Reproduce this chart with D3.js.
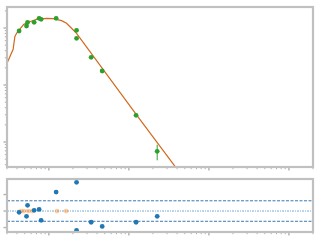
<!DOCTYPE html>
<html><head><meta charset="utf-8">
<script src="https://cdn.jsdelivr.net/npm/d3@7"></script>
<style>body{margin:0;background:#fff}svg{display:block}</style>
</head><body>
<script>
// data
const obsX = [0.425,0.526,0.542,0.655,0.756,0.801,1.234,2.22,2.22,3.38,4.64,12.3,22.6];
const obsY = [0.886,1.084,1.259,1.259,1.48,1.42,1.48,0.911,0.659,0.306,0.176,0.0294,0.00687];
const obsErr = [0.03,0.04,0.04,0.04,0.05,0.05,0.05,0.03,0.02,0.01,0.006,0.001,0.0021];
const modelX = [0.3,0.358,0.376,0.395,0.434,0.487,0.579,0.702,0.936,1.132,1.442,1.664,1.922,2.22,13.72,43.4];
const modelY = [0.240,0.423,0.704,0.807,0.960,1.161,1.29,1.42,1.48,1.456,1.343,1.209,0.988,0.807,0.025,0.00287];
const residX = obsX;
const residY = [-0.08,-0.32,0.345,0.04,0.10,-0.56,1.15,1.74,-1.17,-0.68,-0.93,-0.68,-0.32];
const limX = [0.443,0.487,0.551,0.618,1.27,1.645];
const limY = [0,0,0,0,0,0];
const bandLevels = [0.62,-0.62];
const zeroLevel = 0;

const W=320,H=240;
const svg=d3.select("body").append("svg").attr("width",W).attr("height",H);
const L=7,R=313, T1=7,B1=167, T2=179,B2=232;
const spine="#c0c0c0", tickC="#b0b0b0";

const x=d3.scaleLog().domain([0.3,2000]).range([L,R]);
const y1=d3.scaleLog().domain([0.00364,2.335]).range([B1,T1]);
const y2=d3.scaleLinear().domain([-1.27,1.94]).range([B2,T2]);

function logTicks(scale){
  const t=scale.ticks();
  return t;
}
function drawAxes(ys,top,bot,isLogY){
  const g=svg.append("g");
  // x ticks
  const xt=x.ticks().filter(v=>x(v)>=L-0.5&&x(v)<=R+0.5);
  xt.forEach(v=>{
    const major=Math.abs(Math.log10(v)-Math.round(Math.log10(v)))<1e-6;
    g.append("line").attr("x1",x(v)).attr("x2",x(v)).attr("y1",bot).attr("y2",bot+(major?3.5:2.2))
      .attr("stroke",tickC).attr("stroke-width",major?1.4:1);
  });
  let yt;
  if(isLogY){ yt=ys.ticks().filter(v=>ys(v)>=top&&ys(v)<=bot); }
  else { yt=[-1,0,1]; }
  yt.forEach(v=>{
    const major=isLogY?Math.abs(Math.log10(v)-Math.round(Math.log10(v)))<1e-6:true;
    g.append("line").attr("y1",ys(v)).attr("y2",ys(v)).attr("x1",L).attr("x2",L-(major?3.5:2.2))
      .attr("stroke",tickC).attr("stroke-width",major?1.4:1);
  });
  g.append("rect").attr("x",L).attr("y",top).attr("width",R-L).attr("height",bot-top)
    .attr("fill","none").attr("stroke",spine).attr("stroke-width",2.2);
}

// top panel
const clip=svg.append("clipPath").attr("id","c1").append("rect").attr("x",L).attr("y",T1).attr("width",R-L).attr("height",B1-T1);
const p1=svg.append("g").attr("clip-path","url(#c1)");
const mdl=modelX.map((v,i)=>[v,modelY[i]]);
p1.append("path").attr("d",d3.line().x(d=>x(d[0])).y(d=>y1(d[1]))(mdl))
  .attr("fill","none").attr("stroke","#d2691e").attr("stroke-width",1.2);
obsX.forEach((v,i)=>{
  p1.append("line").attr("x1",x(v)).attr("x2",x(v)).attr("y1",y1(obsY[i]+obsErr[i])).attr("y2",y1(obsY[i]-obsErr[i]))
    .attr("stroke","#2ca02c").attr("stroke-width",1);
  p1.append("circle").attr("cx",x(v)).attr("cy",y1(obsY[i])).attr("r",2.4).attr("fill","#2ca02c");
});
drawAxes(y1,T1,B1,true);

// bottom panel
const p2=svg.append("g");
bandLevels.forEach(b=>{
  p2.append("line").attr("x1",L).attr("x2",R).attr("y1",y2(b)).attr("y2",y2(b))
    .attr("stroke","#3a78b0").attr("stroke-width",1).attr("stroke-dasharray","3,1.5");
});
p2.append("line").attr("x1",L).attr("x2",R).attr("y1",y2(zeroLevel)).attr("y2",y2(zeroLevel))
  .attr("stroke","#7aa8d0").attr("stroke-width",1).attr("stroke-dasharray","2,1,1,1");
limX.forEach((v,i)=>{
  p2.append("circle").attr("cx",x(v)).attr("cy",y2(limY[i])).attr("r",2.4).attr("fill","#ff7f0e").attr("fill-opacity",0.4);
});
residX.forEach((v,i)=>{
  p2.append("circle").attr("cx",x(v)).attr("cy",y2(residY[i])).attr("r",2.4).attr("fill","#1f77b4");
});
drawAxes(y2,T2,B2,false);
</script>
</body></html>
